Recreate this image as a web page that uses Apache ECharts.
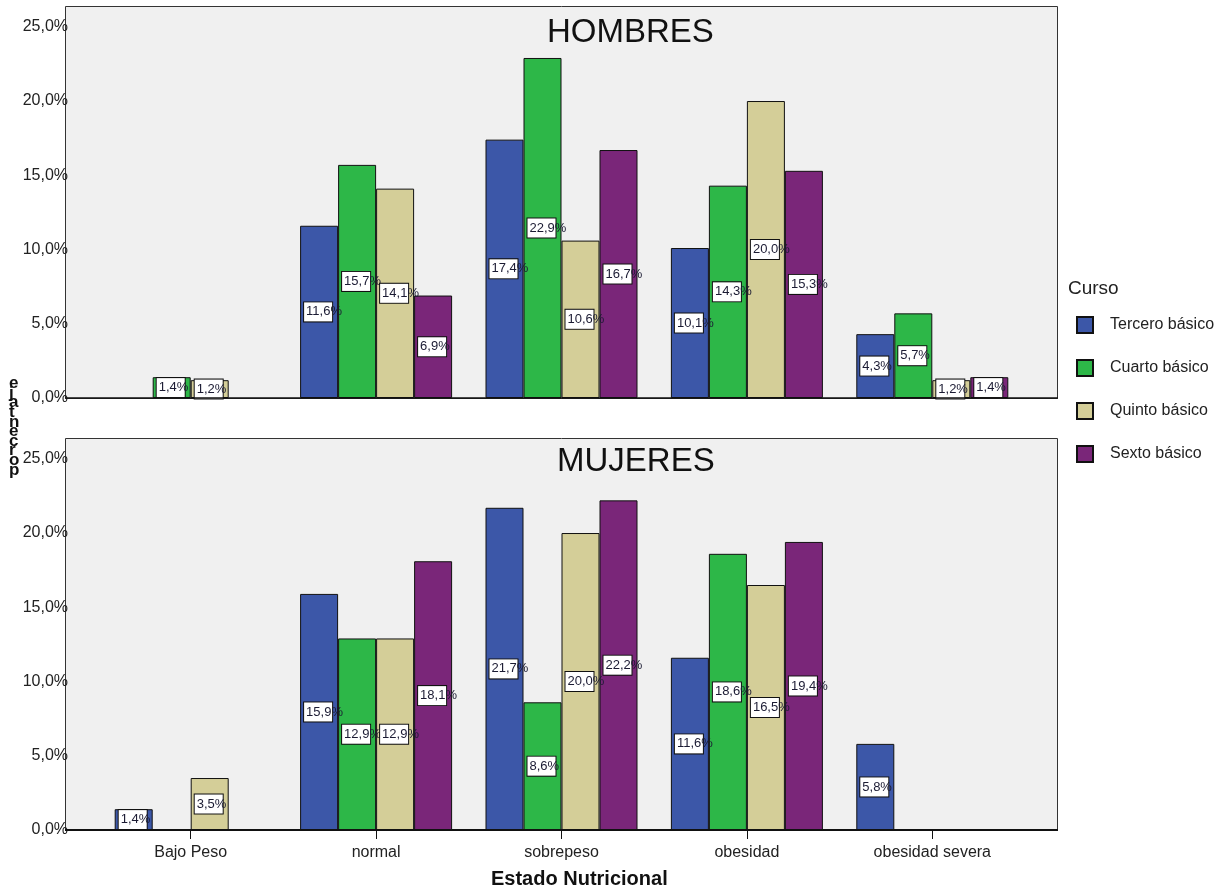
<!DOCTYPE html>
<html>
<head>
<meta charset="utf-8">
<script src="https://cdn.jsdelivr.net/npm/echarts@6/dist/echarts.min.js"></script>
<style>
  html, body { margin: 0; padding: 0; background: #ffffff; }
  #chart { width: 1231px; height: 894px; }
</style>
</head>
<body>
<div id="chart"></div>
<script>
// Estado nutricional por curso (porcentaje), hombres y mujeres
const categories = ['Bajo Peso', 'normal', 'sobrepeso', 'obesidad', 'obesidad severa'];
const courses = ['Tercero básico', 'Cuarto básico', 'Quinto básico', 'Sexto básico'];
const yTicks = [0, 5, 10, 15, 20, 25];

const hombresTercero = [null, 11.6, 17.4, 10.1, 4.3];
const hombresCuarto  = [1.4, 15.7, 22.9, 14.3, 5.7];
const hombresQuinto  = [1.2, 14.1, 10.6, 20.0, 1.2];
const hombresSexto   = [null, 6.9, 16.7, 15.3, 1.4];

const mujeresTercero = [1.4, 15.9, 21.7, 11.6, 5.8];
const mujeresCuarto  = [null, 12.9, 8.6, 18.6, null];
const mujeresQuinto  = [3.5, 12.9, 20.0, 16.5, null];
const mujeresSexto   = [null, 18.1, 22.2, 19.4, null];

const colors = ['#3c57a8', '#2db748', '#d4ce98', '#7a2679'];
const FONT = 'Liberation Sans, Arial, sans-serif';

const fmtPct = v => v.toFixed(1).replace('.', ',') + '%';

const panelTop = [6, 438];
const panelH = 392;

function makeSeries(name, data, color, gridIdx) {
  return {
    name: name,
    type: 'bar',
    xAxisIndex: gridIdx,
    yAxisIndex: gridIdx,
    data: data,
    barWidth: 38,
    barGap: '0%',
    itemStyle: { color: color, borderColor: '#111', borderWidth: 1 },
    label: {
      show: true,
      position: 'inside',
      offset: [-15, 0],
      formatter: p => p.value == null ? '' : fmtPct(p.value),
      fontFamily: FONT,
      fontSize: 13,
      color: '#1b1b33',
      width: 25,
      overflow: 'none',
      align: 'left',
      padding: [3, 1, 3, 2],
      backgroundColor: '#ffffff',
      borderColor: '#111',
      borderWidth: 1
    },
    z: 3
  };
}

const hombres = [hombresTercero, hombresCuarto, hombresQuinto, hombresSexto];
const mujeres = [mujeresTercero, mujeresCuarto, mujeresQuinto, mujeresSexto];

const series = [];
courses.forEach((c, i) => series.push(makeSeries(c, hombres[i], colors[i], 0)));
courses.forEach((c, i) => series.push(makeSeries(c, mujeres[i], colors[i], 1)));

function yAxisCfg(gridIdx) {
  return {
    type: 'value',
    gridIndex: gridIdx,
    min: yTicks[0],
    max: 26.4,
    interval: 5,
    offset: 33,
    axisLine: { show: false },
    axisTick: { show: false },
    splitLine: { show: false },
    axisLabel: {
      margin: -3,
      lineHeight: 16,
      padding: [6, 0, 0, 0],
      fontFamily: FONT,
      fontSize: 16,
      color: '#222',
      formatter: v => yTicks.indexOf(v) >= 0 ? fmtPct(v) : ''
    }
  };
}

const option = {
  animation: false,
  backgroundColor: '#ffffff',
  textStyle: { fontFamily: FONT },
  title: [
    { text: 'HOMBRES', left: 542, top: 11, textStyle: { fontFamily: FONT, fontSize: 33, fontWeight: 'normal', color: '#111' } },
    { text: 'MUJERES', left: 552, top: 440, textStyle: { fontFamily: FONT, fontSize: 33, fontWeight: 'normal', color: '#111' } }
  ],
  grid: [
    { left: 98, right: 206, top: panelTop[0], height: panelH },
    { left: 98, right: 206, top: panelTop[1], height: panelH }
  ],
  xAxis: [
    {
      type: 'category', gridIndex: 0, data: categories,
      axisLine: { show: false }, axisTick: { show: false }, axisLabel: { show: false }
    },
    {
      type: 'category', gridIndex: 1, data: categories,
      axisLine: { show: false },
      axisTick: { show: true, alignWithLabel: true, length: 9, lineStyle: { color: '#111', width: 1 } },
      axisLabel: { margin: 15, fontFamily: FONT, fontSize: 16, color: '#222' }
    }
  ],
  yAxis: [yAxisCfg(0), yAxisCfg(1)],
  legend: {
    orient: 'vertical',
    left: 1076,
    top: 316,
    padding: 0,
    itemWidth: 16,
    itemHeight: 16,
    itemGap: 25,
    icon: 'rect',
    data: courses,
    textStyle: { fontFamily: FONT, fontSize: 16, color: '#222', padding: [0, 0, 0, 12] }
  },
  graphic: [
    // panel frames
    { type: 'rect', z: 0, shape: { x: 65.5, y: panelTop[0] + 0.5, width: 992, height: panelH }, style: { fill: '#f0f0f0', stroke: '#333', lineWidth: 1 } },
    { type: 'rect', z: 0, shape: { x: 65.5, y: panelTop[1] + 0.5, width: 992, height: panelH }, style: { fill: '#f0f0f0', stroke: '#333', lineWidth: 1 } },
    // baselines
    { type: 'line', z: 10, shape: { x1: 65, y1: panelTop[0] + panelH, x2: 1058, y2: panelTop[0] + panelH }, style: { stroke: '#111', lineWidth: 1.5 } },
    { type: 'line', z: 10, shape: { x1: 65, y1: panelTop[1] + panelH, x2: 1058, y2: panelTop[1] + panelH }, style: { stroke: '#111', lineWidth: 2 } },
    // legend heading
    { type: 'text', left: 1068, top: 279, style: { text: 'Curso', font: '19px ' + FONT, fill: '#222' } },
    // axis titles
    { type: 'text', left: 491, top: 869, style: { text: 'Estado Nutricional', font: 'bold 20px ' + FONT, fill: '#111' } },
    { type: 'text', left: 9, top: 375, style: { text: 'e\nj\na\nt\nn\ne\nc\nr\no\np', font: 'bold 17px ' + FONT, fill: '#111', lineHeight: 9.6, align: 'center' } }
  ],
  series: series
};

echarts.init(document.getElementById('chart'), null, { renderer: 'canvas' }).setOption(option);
</script>
</body>
</html>
